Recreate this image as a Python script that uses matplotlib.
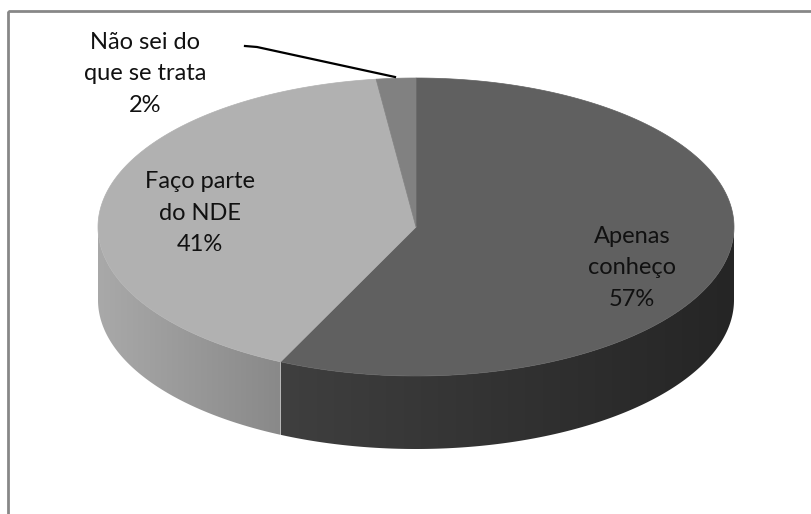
import numpy as np
import matplotlib
matplotlib.use("Agg")
import matplotlib.pyplot as plt
from matplotlib.patches import Polygon, Rectangle
from matplotlib.colors import LinearSegmentedColormap

# dados da pesquisa sobre o NDE
categorias = ["Apenas\nconheço", "Faço parte\ndo NDE", "Não sei do\nque se trata"]
percentuais = [57, 41, 2]

cores_topo = ["#606060", "#b1b1b1", "#818181"]
cores_lado = [("#3f3f3f", "#252525"), ("#a9a9a9", "#898989"), ("#6a6a6a", "#5a5a5a")]

# geometria da pizza 3D (em pixels)
cx, cy = 416, 227
ra, rb = 318, 149
altura = 73

plt.rcParams["font.family"] = ["Lato", "DejaVu Sans"]

fig = plt.figure(figsize=(8.12, 5.14), dpi=100)
ax = fig.add_axes([0, 0, 1, 1])
ax.set_xlim(0, 812)
ax.set_ylim(514, 0)
ax.axis("off")


def borda(t_ini, t_fim, dy=0.0, n=200):
    t = np.radians(np.linspace(t_ini, t_fim, n))
    return np.column_stack([cx + ra * np.cos(t), cy - rb * np.sin(t) + dy])


# ângulos das fatias, começando às 12h e girando no sentido horário
limites = 90 - 360 * np.concatenate([[0], np.cumsum(percentuais)]) / sum(percentuais)

# laterais (somente a parte frontal é visível)
for i in range(len(percentuais)):
    hi, lo = limites[i], limites[i + 1]
    for k in (-1, 0, 1):
        a0, a1 = max(lo, -180 + 360 * k), min(hi, 360 * k)
        if a1 <= a0:
            continue
        cima = borda(a0, a1)
        baixo = borda(a1, a0, dy=altura)
        pts = np.vstack([cima, baixo])
        poly = Polygon(pts, closed=True, facecolor="none", edgecolor="none")
        ax.add_patch(poly)
        x0, x1 = pts[:, 0].min(), pts[:, 0].max()
        y0, y1 = pts[:, 1].min(), pts[:, 1].max()
        cmap = LinearSegmentedColormap.from_list("lado", cores_lado[i])
        img = ax.imshow(np.linspace(0, 1, 256)[None, :], cmap=cmap, aspect="auto",
                        extent=[x0, x1, y1, y0], zorder=1, interpolation="bilinear")
        img.set_clip_path(poly)

# topo das fatias
for i in range(len(percentuais)):
    arco = borda(limites[i], limites[i + 1])
    pts = np.vstack([[cx, cy], arco])
    ax.add_patch(Polygon(pts, closed=True, facecolor=cores_topo[i],
                         edgecolor=cores_topo[i], linewidth=0.5, zorder=2))

# rótulos
pos_rotulos = [(632, 268), (200, 213), (145, 74)]
for nome, val, (x, y) in zip(categorias, percentuais, pos_rotulos):
    ax.text(x, y, f"{nome}\n{val}%", ha="center", va="center", fontsize=17,
            color="#111111", linespacing=1.6, zorder=4)

# linha de chamada da menor fatia
ax.plot([245, 257, 395], [46, 47, 77], color="black", lw=1.6, zorder=3)

# moldura do gráfico
ax.add_patch(Rectangle((8.5, 11), 820, 520, facecolor="none", edgecolor="#878787",
                       linewidth=2, zorder=5))

fig.savefig("out.png", dpi=100)
